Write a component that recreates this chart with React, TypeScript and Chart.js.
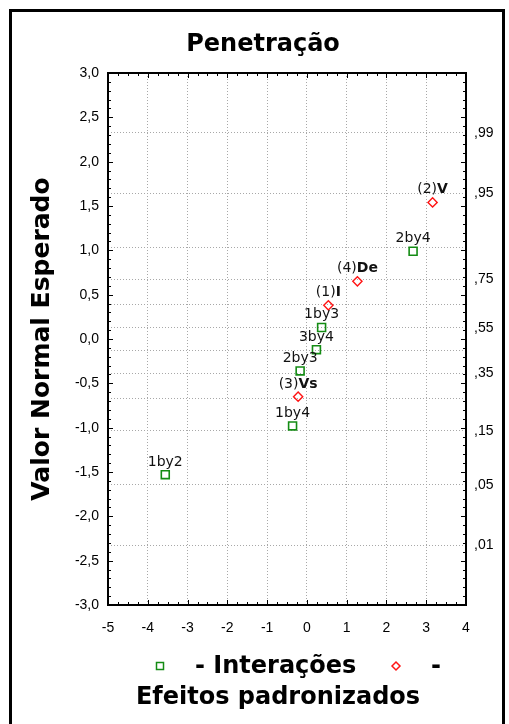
import { useEffect, useRef } from 'react';
import { Chart, registerables } from 'chart.js';

Chart.register(...registerables);

// Interaction effects (standardized effect vs expected normal value)
const interactionLabels = ['1by2', '1by4', '2by3', '3by4', '1by3', '2by4'];
const interactionEffects = [-3.56, -0.36, -0.17, 0.24, 0.37, 2.67];
const interactionExpected = [-1.53, -0.98, -0.36, -0.12, 0.13, 0.99];

// Main effects
const mainPrefixes = ['(3)', '(1)', '(4)', '(2)'];
const mainNames = ['Vs', 'I', 'De', 'V'];
const mainEffects = [-0.22, 0.54, 1.27, 3.16];
const mainExpected = [-0.65, 0.38, 0.65, 1.54];

// Right-hand probability axis: normal quantiles and their labels
const probQuantiles = [-2.326, -1.645, -1.036, -0.674, -0.385, -0.126, 0.126, 0.385, 0.674, 1.036, 1.645, 2.326];
const probLabels = [',01', ',05', ',15', '', ',35', '', ',55', '', ',75', '', ',95', ',99'];

const seriesNames = ['- Interações', '- Efeitos padronizados'];
const chartTitle = 'Penetração';
const yTitle = 'Valor Normal Esperado';

const X_MIN = -5;
const X_MAX = 4;
const Y_MIN = -3;
const Y_MAX = 3;

const GREEN = 'rgb(20,140,20)';
const RED = 'rgb(255,20,20)';
const GRID = '#a8a8a8';
const TICK_FONT = { family: '"Liberation Sans", Arial, sans-serif', size: 14 };
const LABEL_FONT = '14px "DejaVu Sans", sans-serif';
const LABEL_FONT_BOLD = 'bold 14px "DejaVu Sans", sans-serif';
const BIG_BOLD = 'bold 24px "DejaVu Sans", sans-serif';

const decorations = {
  id: 'decorations',
  beforeDraw(chart: any) {
    const ctx = chart.ctx;
    ctx.save();
    ctx.fillStyle = '#fff';
    ctx.fillRect(0, 0, chart.width, chart.height);
    ctx.strokeStyle = '#000';
    ctx.lineWidth = 3;
    ctx.strokeRect(10.5, 10.5, 493, 800);
    ctx.restore();
  },
  afterDraw(chart: any) {
    const ctx = chart.ctx;
    const { left, right, top, bottom } = chart.chartArea;
    const xs = chart.scales.x;
    const ys = chart.scales.y;
    ctx.save();

    // plot frame
    ctx.strokeStyle = '#000';
    ctx.lineWidth = 2;
    ctx.strokeRect(left, top, right - left, bottom - top);

    // inward tick marks
    ctx.lineWidth = 1;
    ctx.beginPath();
    for (let k = 0; k <= (X_MAX - X_MIN) * 4; k++) {
      const px = Math.round(xs.getPixelForValue(X_MIN + k * 0.25)) + 0.5;
      const len = k % 4 === 0 ? 5 : 3;
      ctx.moveTo(px, bottom);
      ctx.lineTo(px, bottom - len);
      ctx.moveTo(px, top);
      ctx.lineTo(px, top + len);
    }
    for (let k = 0; k <= (Y_MAX - Y_MIN) * 10; k++) {
      const py = Math.round(ys.getPixelForValue(Y_MIN + k * 0.1)) + 0.5;
      const len = k % 5 === 0 ? 5 : 3;
      ctx.moveTo(left, py);
      ctx.lineTo(left + len, py);
      ctx.moveTo(right, py);
      ctx.lineTo(right - len, py);
    }
    ctx.stroke();

    // point labels
    ctx.fillStyle = '#111';
    ctx.textBaseline = 'alphabetic';
    ctx.textAlign = 'center';
    ctx.font = LABEL_FONT;
    chart.getDatasetMeta(0).data.forEach((pt: any, i: number) => {
      ctx.fillText(interactionLabels[i], pt.x, pt.y - 9);
    });
    ctx.textAlign = 'left';
    chart.getDatasetMeta(1).data.forEach((pt: any, i: number) => {
      ctx.font = LABEL_FONT;
      const w1 = ctx.measureText(mainPrefixes[i]).width;
      ctx.font = LABEL_FONT_BOLD;
      const w2 = ctx.measureText(mainNames[i]).width;
      const x0 = pt.x - (w1 + w2) / 2;
      ctx.font = LABEL_FONT;
      ctx.fillText(mainPrefixes[i], x0, pt.y - 9);
      ctx.font = LABEL_FONT_BOLD;
      ctx.fillText(mainNames[i], x0 + w1, pt.y - 9);
    });

    // title
    ctx.fillStyle = '#000';
    ctx.font = BIG_BOLD;
    ctx.textAlign = 'center';
    ctx.fillText(chartTitle, 263, 51);

    // legend
    ctx.strokeStyle = GREEN;
    ctx.lineWidth = 1.5;
    ctx.strokeRect(156.5, 662.5, 7, 7);
    ctx.strokeStyle = RED;
    ctx.beginPath();
    ctx.moveTo(392, 666);
    ctx.lineTo(396, 662);
    ctx.lineTo(400, 666);
    ctx.lineTo(396, 670);
    ctx.closePath();
    ctx.stroke();
    ctx.textAlign = 'left';
    ctx.fillText(seriesNames[0], 195, 673);
    const sp = seriesNames[1].indexOf(' ');
    ctx.fillText(seriesNames[1].slice(0, sp), 431, 673);
    ctx.textAlign = 'center';
    ctx.fillText(seriesNames[1].slice(sp + 1), 278, 704);

    ctx.restore();
  },
};

export default function App() {
  const ref = useRef<HTMLCanvasElement | null>(null);

  useEffect(() => {
    if (!ref.current) return;
    const chart = new Chart(ref.current, {
      type: 'scatter',
      data: {
        datasets: [
          {
            label: seriesNames[0],
            data: interactionEffects.map((x, i) => ({ x, y: interactionExpected[i] })),
            pointStyle: 'rect',
            pointRadius: 5.6,
            borderColor: GREEN,
            backgroundColor: 'rgba(0,0,0,0)',
            borderWidth: 1.6,
            yAxisID: 'y',
          },
          {
            label: seriesNames[1],
            data: mainEffects.map((x, i) => ({ x, y: mainExpected[i] })),
            pointStyle: 'rectRot',
            pointRadius: 4.6,
            borderColor: RED,
            backgroundColor: 'rgba(0,0,0,0)',
            borderWidth: 1.4,
            yAxisID: 'y',
          },
        ],
      },
      options: {
        responsive: false,
        animation: false,
        events: [],
        layout: { padding: { top: 73, left: 0, right: 0, bottom: 0 } },
        plugins: {
          legend: { display: false },
          title: { display: false },
          tooltip: { enabled: false },
        },
        scales: {
          x: {
            type: 'linear',
            position: 'bottom',
            min: X_MIN,
            max: X_MAX,
            ticks: {
              stepSize: 1,
              color: '#000',
              font: TICK_FONT,
              padding: 15,
              callback: (v: any) => String(v),
            },
            grid: { color: GRID, lineWidth: 1, drawTicks: false },
            border: { display: false, dash: [1, 2] },
            afterFit: (s: any) => {
              s.height = 119;
            },
          },
          y: {
            type: 'linear',
            position: 'left',
            min: Y_MIN,
            max: Y_MAX,
            ticks: {
              stepSize: 0.5,
              color: '#000',
              font: TICK_FONT,
              padding: 9,
              callback: (v: any) => Number(v).toFixed(1).replace('.', ','),
            },
            grid: { display: false, drawTicks: false },
            border: { display: false },
            title: {
              display: true,
              text: yTitle,
              color: '#000',
              font: { family: '"DejaVu Sans", sans-serif', size: 25, weight: 'bold' },
              padding: { top: 27, bottom: 0 },
            },
            afterFit: (s: any) => {
              s.width = 108;
            },
          },
          yProb: {
            type: 'linear',
            position: 'right',
            min: Y_MIN,
            max: Y_MAX,
            afterBuildTicks: (s: any) => {
              s.ticks = probQuantiles.map((value) => ({ value }));
            },
            ticks: {
              autoSkip: false,
              color: '#000',
              font: TICK_FONT,
              padding: 8,
              callback: (_v: any, i: number) => probLabels[i],
            },
            grid: { color: GRID, lineWidth: 1, drawTicks: false },
            border: { display: false, dash: [1, 2] },
            afterFit: (s: any) => {
              s.width = 43;
            },
          },
        },
      } as any,
      plugins: [decorations],
    });
    return () => chart.destroy();
  }, []);

  return (
    <div style={{ position: 'absolute', left: 0, top: 0, width: 509, height: 724 }}>
      <canvas ref={ref} width={509} height={724} style={{ display: 'block' }} />
    </div>
  );
}
